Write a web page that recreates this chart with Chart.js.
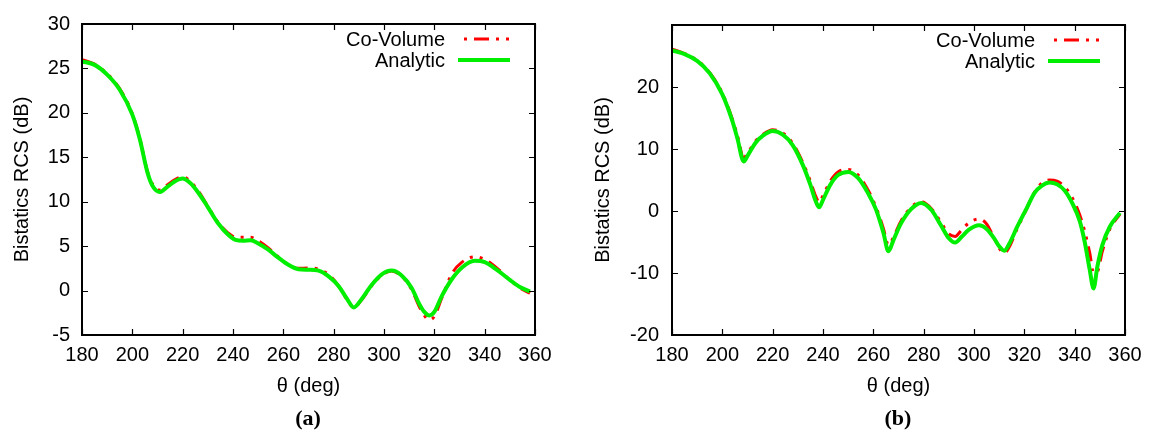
<!DOCTYPE html>
<html><head><meta charset="utf-8">
<script src="https://cdn.jsdelivr.net/npm/chart.js@4.4.1/dist/chart.umd.min.js"></script>
<style>
body{margin:0;background:#fff;width:1150px;height:430px;overflow:hidden;position:relative}
canvas{position:absolute;top:0}
#ca{left:0}#cb{left:575px}
.lab{position:absolute;top:405px;width:100px;height:26px;line-height:26px;text-align:center;font:bold 22px "Liberation Serif",serif;color:#000}
</style></head><body>
<canvas id="ca" width="575" height="430"></canvas>
<canvas id="cb" width="575" height="430"></canvas>
<div class="lab" style="left:258px">(a)</div>
<div class="lab" style="left:848px">(b)</div>
<script>
// ---- data ----
const xTicks = [180,200,220,240,260,280,300,320,340,360];
const yTicksA = [-5,0,5,10,15,20,25,30];
const yTicksB = [-20,-10,0,10,20];
const yTickMarksB = [-20,-10,0,10,20,30];

const thetaA = [180,185,190,195,200,203,206,208,211,214,217,220,223,226,230,234,238,241,244,247,250,254,258,262,266,270,274,278,282,285,288,291,295,299,303,307,311,314,316,318,320,323,327,331,336,340,345,350,354,358];
const analyticA = [25.8,25.4,24.3,22.6,19.8,17.0,13.3,11.8,11.1,11.7,12.3,12.6,12.1,11.1,9.4,7.6,6.3,5.7,5.6,5.65,5.3,4.6,3.7,2.9,2.4,2.35,2.25,1.6,0.5,-0.8,-1.9,-1.0,0.6,1.8,2.25,1.7,0.3,-1.5,-2.4,-2.8,-2.4,-0.6,1.3,2.6,3.35,3.2,2.3,1.2,0.4,-0.1];
const coVolumeA = [26.0,25.5,24.4,22.7,19.9,17.1,13.4,12.0,11.3,11.9,12.5,12.8,12.3,11.3,9.5,7.7,6.5,6.0,6.0,6.0,5.6,4.8,3.8,2.9,2.5,2.55,2.4,1.8,0.5,-0.9,-1.9,-1.1,0.5,1.7,2.2,1.6,0.1,-1.8,-2.8,-3.3,-2.9,-0.8,1.9,3.2,3.8,3.5,2.5,1.2,0.3,-0.3];

const thetaB = [180,185,190,195,200,204,206,208.5,210,213,216,220,224,228,232,235,237,238.5,240,243,246,250,254,258,261,264,266,268,271,275,279,283,287,290,292.5,295,298,302,305,308,310,312,314,317,321,324,327,330,333,336,339,342,344,346,347.5,349,351,354,358];
const analyticB = [25.9,25.3,24.2,22.2,18.8,14.5,11.7,8.0,8.9,10.9,12.1,12.9,12.3,10.6,7.4,4.2,1.7,0.6,1.8,4.3,5.8,6.3,5.3,2.8,0.3,-3.5,-6.5,-4.7,-2.0,0.3,1.3,0.2,-2.4,-4.4,-5.1,-4.2,-3.0,-2.3,-2.9,-4.4,-5.7,-6.4,-5.3,-2.7,0.5,2.9,4.1,4.6,4.3,3.3,1.3,-1.6,-5.0,-9.5,-12.5,-9.0,-5.5,-2.5,-0.3];
const coVolumeB = [26.1,25.4,24.3,22.3,19.0,14.8,12.2,8.6,9.3,11.2,12.3,13.1,12.6,10.9,7.8,4.8,2.5,1.4,2.5,4.9,6.3,6.7,5.8,3.3,0.7,-2.8,-5.5,-4.2,-1.6,0.6,1.5,0.4,-1.9,-3.7,-4.1,-3.1,-1.9,-1.3,-2.1,-4.4,-6.0,-6.8,-5.8,-3.0,0.4,3.0,4.5,5.0,4.8,3.9,2.2,-0.6,-3.3,-6.8,-10.0,-9.8,-6.5,-2.9,-0.5];

const labels = ['Co-Volume','Analytic'];
const xTitle = 'θ (deg)';
const yTitle = 'Bistatics RCS (dB)';

// ---- styling ----
const RED = '#ff0000', GREEN = '#00ee00';
const DASH = [15,7,3,7,3,7];
Chart.defaults.font.family = '"Liberation Sans", Arial, sans-serif';
Chart.defaults.font.size = 20;
Chart.defaults.color = '#000';

const framePlugin = {
  id: 'frame',
  afterDatasetsDraw(chart, args, opts) {
    const {ctx, chartArea: a, scales: {x, y}} = chart;
    ctx.save();
    ctx.strokeStyle = '#000';
    ctx.lineWidth = 1.2;
    const L = 6;
    ctx.beginPath();
    for (const v of xTicks) {
      const p = Math.round(x.getPixelForValue(v)) + 0.5;
      ctx.moveTo(p, a.bottom); ctx.lineTo(p, a.bottom - L);
      ctx.moveTo(p, a.top); ctx.lineTo(p, a.top + L);
    }
    for (const v of opts.yt) {
      const p = Math.round(y.getPixelForValue(v)) + 0.5;
      ctx.moveTo(a.left, p); ctx.lineTo(a.left + L, p);
      ctx.moveTo(a.right, p); ctx.lineTo(a.right - L, p);
    }
    ctx.stroke();
    ctx.lineWidth = 2;
    ctx.strokeRect(a.left, a.top, a.right - a.left, a.bottom - a.top);
    // legend
    ctx.font = '20px "Liberation Sans", Arial, sans-serif';
    ctx.fillStyle = '#000';
    ctx.textAlign = 'right';
    ctx.textBaseline = 'middle';
    const ds = chart.data.datasets;
    const rows = [a.top + 15, a.top + 36];
    ds.forEach((d, i) => {
      const yy = rows[i];
      ctx.fillText(d.label, a.right - 90, yy + 1);
      ctx.beginPath();
      ctx.strokeStyle = d.borderColor;
      ctx.lineWidth = d.borderWidth;
      ctx.setLineDash(d.borderDash || []);
      ctx.lineDashOffset = d.borderDash ? 26 : 0;
      ctx.moveTo(a.right - 77, yy); ctx.lineTo(a.right - 25, yy);
      ctx.stroke();
      ctx.setLineDash([]);
    });
    ctx.restore();
  }
};

function makeChart(id, theta, cv, an, ymin, ymax, yt, ytMarks, yw, padRight, ytPad, titlePad) {
  const toPts = arr => arr.map((v, i) => ({x: theta[i], y: v}));
  return new Chart(document.getElementById(id), {
    type: 'line',
    data: {
      datasets: [
        {label: labels[0], data: toPts(cv), borderColor: RED, borderWidth: 3, borderDash: DASH, pointRadius: 0, cubicInterpolationMode: 'monotone', order: 1, fill: false},
        {label: labels[1], data: toPts(an), borderColor: GREEN, borderWidth: 4, pointRadius: 0, cubicInterpolationMode: 'monotone', order: 0, fill: false}
      ]
    },
    options: {
      responsive: false, animation: false, devicePixelRatio: 1,
      layout: {padding: {top: 21, right: padRight, left: 0, bottom: 0}},
      plugins: {legend: {display: false}, tooltip: {enabled: false}, frame: {yt: ytMarks}},
      scales: {
        x: {
          type: 'linear', min: 180, max: 360,
          grid: {display: false, drawTicks: false}, border: {display: false},
          ticks: {padding: 8, maxRotation: 0, autoSkip: false},
          afterBuildTicks: s => { s.ticks = xTicks.map(v => ({value: v})); },
          afterFit: s => { s.height = 95; },
          title: {display: true, text: xTitle, padding: {top: 0, bottom: 32}}
        },
        y: {
          type: 'linear', min: ymin, max: ymax,
          grid: {display: false, drawTicks: false}, border: {display: false},
          ticks: {padding: ytPad, autoSkip: false},
          afterBuildTicks: s => { s.ticks = yt.map(v => ({value: v})); },
          afterFit: s => { s.width = yw; },
          title: {display: true, text: yTitle, padding: {top: titlePad, bottom: 0}}
        }
      }
    },
    plugins: [framePlugin]
  });
}

makeChart('ca', thetaA, coVolumeA, analyticA, -5, 30, yTicksA, yTicksA, 82, 40, 12, 10);
makeChart('cb', thetaB, coVolumeB, analyticB, -20, 30, yTicksB, yTickMarksB, 97, 25, 13, 16);
</script>
</body></html>
